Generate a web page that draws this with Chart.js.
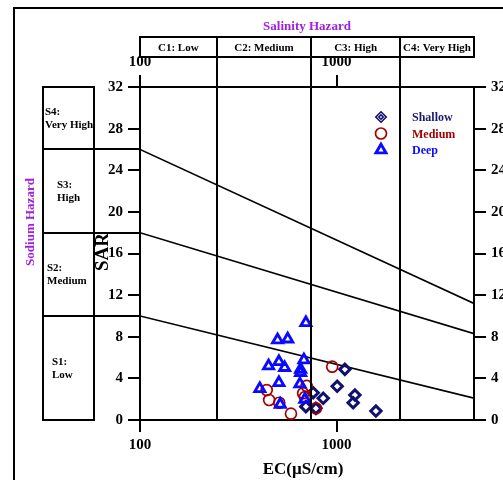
<!DOCTYPE html>
<html>
<head>
<meta charset="utf-8">
<script src="https://cdn.jsdelivr.net/npm/chart.js@4/dist/chart.umd.min.js"></script>
<style>
  html, body { margin: 0; padding: 0; background: #fff; }
  #wrap { width: 503px; height: 480px; position: relative; }
</style>
</head>
<body>
<div id="wrap"><canvas id="chart"></canvas></div>
<script>
const FONT = "'Liberation Serif', 'Times New Roman', serif";

// EC (uS/cm) and SAR
const shallowEC = [1102, 1007, 760, 855, 1239, 1214, 698, 785, 1585];
const shallowSAR = [4.87, 3.24, 2.62, 2.09, 2.40, 1.66, 1.28, 1.12, 0.86];
const mediumEC = [950, 441, 454, 511, 586, 704, 676, 690, 785];
const mediumSAR = [5.12, 2.88, 1.92, 1.66, 0.61, 3.27, 2.57, 2.2, 1.12];
const deepEC = [698, 501, 564, 451, 509, 544, 682, 656, 656, 509, 407, 651, 517, 690];
const deepSAR = [9.35, 7.69, 7.78, 5.19, 5.60, 5.03, 5.77, 4.87, 4.55, 3.58, 3.01, 3.46, 1.51, 1.99];

// hazard class boundaries
const salinityBounds = [245, 745, 2100];
const salinityLabels = ['C1: Low', 'C2: Medium', 'C3: High', 'C4: Very High'];
const sodiumLeft = [10, 18, 26];     // SAR of the boundary lines at EC = 100
const sodiumRight = [2.1, 8.3, 11.2]; // SAR of the boundary lines at EC = 5000
const sodiumLabels = [['S1:', 'Low'], ['S2:', 'Medium'], ['S3:', 'High'], ['S4:', 'Very High']];
const xTickValues = [100, 1000];

function pts(xs, ys) {
  return xs.map((x, i) => ({ x: x, y: ys[i] }));
}

const boundaryDatasets = sodiumLeft.map((v, i) => ({
  type: 'line',
  data: [{ x: 100, y: v }, { x: 5000, y: sodiumRight[i] }],
  borderColor: '#000',
  borderWidth: 1.6,
  pointRadius: 0,
  fill: false,
  order: 10
}));

const series = [
  { label: 'Shallow', data: pts(shallowEC, shallowSAR), pointStyle: 'rectRot', color: '#101070', radius: 5.2, width: 3, text: '#191970' },
  { label: 'Medium', data: pts(mediumEC, mediumSAR), pointStyle: 'circle', color: '#a50000', radius: 5.5, width: 1.7, text: '#a50000' },
  { label: 'Deep', data: pts(deepEC, deepSAR), pointStyle: 'triangle', color: '#0a0aff', radius: 5.8, width: 2.9, text: '#0a0aff' }
];

const scatterDatasets = series.map((s, i) => ({
  type: 'scatter',
  label: s.label,
  data: s.data,
  pointStyle: s.pointStyle,
  pointRadius: s.radius,
  pointBorderWidth: s.width,
  borderColor: s.color,
  backgroundColor: 'rgba(0,0,0,0)',
  order: 3 - i
}));

function tickAxis(position) {
  return {
    type: 'logarithmic',
    position: position,
    min: 100,
    max: 5000,
    afterBuildTicks: (scale) => { scale.ticks = xTickValues.map(v => ({ value: v, major: true })); },
    afterFit: (scale) => { scale.height = position === 'top' ? 87 : 60; },
    grid: { drawOnChartArea: false, drawTicks: true, tickLength: 12, color: '#000', lineWidth: 2 },
    border: { display: true, color: '#000', width: 2 },
    ticks: {
      autoSkip: false,
      maxRotation: 0,
      padding: 4,
      color: '#000',
      font: { family: FONT, size: 15, weight: 'bold' },
      callback: (v) => String(v)
    }
  };
}

function yAxis(position) {
  return {
    type: 'linear',
    position: position,
    min: 0,
    max: 32,
    afterFit: (scale) => { scale.width = position === 'left' ? 40 : 29; },
    grid: { drawOnChartArea: false, drawTicks: true, tickLength: 12, color: '#000', lineWidth: 2 },
    border: { display: true, color: '#000', width: 2 },
    ticks: {
      stepSize: 4,
      padding: 5,
      color: '#000',
      font: { family: FONT, size: 15, weight: 'bold' }
    }
  };
}

const decorPlugin = {
  id: 'decor',
  beforeDraw(chart) {
    const ctx = chart.ctx;
    ctx.save();
    ctx.fillStyle = '#fff';
    ctx.fillRect(0, 0, chart.width, chart.height);
    ctx.restore();
  },
  afterDraw(chart) {
    const ctx = chart.ctx;
    const area = chart.chartArea;
    const xs = chart.scales.x;
    const ys = chart.scales.y;
    ctx.save();
    ctx.strokeStyle = '#000';
    ctx.fillStyle = '#000';

    // outer frame
    ctx.lineWidth = 2;
    ctx.strokeRect(14, 8, 520, 500);

    // salinity hazard box
    const boxTop = 37, boxBot = 57;
    ctx.strokeRect(area.left, boxTop, area.right - area.left, boxBot - boxTop);
    const edges = [area.left].concat(salinityBounds.map(v => xs.getPixelForValue(v)), [area.right]);
    ctx.beginPath();
    salinityBounds.forEach(v => {
      const px = Math.round(xs.getPixelForValue(v));
      ctx.moveTo(px, boxTop);
      ctx.lineTo(px, area.bottom);
    });
    ctx.stroke();
    ctx.font = 'bold 11px ' + FONT;
    ctx.textAlign = 'center';
    ctx.textBaseline = 'middle';
    salinityLabels.forEach((t, i) => {
      ctx.fillText(t, (edges[i] + edges[i + 1]) / 2, (boxTop + boxBot) / 2 + 1);
    });
    ctx.fillStyle = '#a020e0';
    ctx.font = 'bold 13px ' + FONT;
    ctx.fillText('Salinity Hazard', (area.left + area.right) / 2, 27);

    // sodium hazard box
    const bl = 43, br = 94;
    ctx.strokeStyle = '#000';
    ctx.fillStyle = '#000';
    ctx.strokeRect(bl, area.top, br - bl, area.bottom - area.top);
    ctx.beginPath();
    sodiumLeft.forEach(v => {
      const py = Math.round(ys.getPixelForValue(v));
      ctx.moveTo(bl, py);
      ctx.lineTo(area.left, py);
    });
    ctx.stroke();
    const yEdges = [0].concat(sodiumLeft, [32]).map(v => ys.getPixelForValue(v));
    ctx.font = 'bold 11px ' + FONT;
    ctx.textAlign = 'left';
    const labelX = [52, 47, 57, 45];
    sodiumLabels.forEach((lines, i) => {
      const cy = (yEdges[i] + yEdges[i + 1]) / 2;
      ctx.fillText(lines[0], labelX[i], cy - 6);
      ctx.fillText(lines[1], labelX[i], cy + 7);
    });

    // rotated titles
    ctx.save();
    ctx.translate(31, 222);
    ctx.rotate(-Math.PI / 2);
    ctx.textAlign = 'center';
    ctx.fillStyle = '#a020e0';
    ctx.font = 'bold 13px ' + FONT;
    ctx.fillText('Sodium Hazard', 0, 0);
    ctx.restore();

    ctx.save();
    ctx.translate(103, 252);
    ctx.rotate(-Math.PI / 2);
    ctx.textAlign = 'center';
    ctx.fillStyle = '#000';
    ctx.font = 'bold 19px ' + FONT;
    ctx.fillText('SAR', 0, 0);
    ctx.restore();

    ctx.textAlign = 'center';
    ctx.fillStyle = '#000';
    ctx.font = 'bold 17px ' + FONT;
    ctx.fillText('EC(\u00b5S/cm)', 303, 470);

    // legend
    const lx = 381, ly = 117, step = 16.5;
    series.forEach((s, i) => {
      const y = ly + i * step;
      ctx.strokeStyle = s.color;
      ctx.fillStyle = 'rgba(0,0,0,0)';
      const w = s.pointStyle === 'rectRot' ? 1.6 : s.width;
      ctx.lineWidth = w;
      Chart.helpers.drawPoint(ctx, { pointStyle: s.pointStyle, radius: s.radius, rotation: 0, borderWidth: w }, lx, y);
      if (s.pointStyle === 'rectRot') {
        Chart.helpers.drawPoint(ctx, { pointStyle: 'rectRot', radius: 2.2, rotation: 0, borderWidth: w }, lx, y);
      }
      ctx.fillStyle = s.text;
      ctx.font = 'bold 12px ' + FONT;
      ctx.textAlign = 'left';
      ctx.fillText(s.label, 412, y + 1);
    });
    ctx.restore();
  }
};

new Chart(document.getElementById('chart'), {
  data: { datasets: boundaryDatasets.concat(scatterDatasets) },
  options: {
    responsive: true,
    maintainAspectRatio: false,
    animation: false,
    layout: { padding: { left: 100, right: 0, top: 0, bottom: 0 } },
    scales: {
      x: tickAxis('bottom'),
      x2: tickAxis('top'),
      y: yAxis('left'),
      y2: yAxis('right')
    },
    plugins: {
      legend: { display: false },
      tooltip: { enabled: false }
    }
  },
  plugins: [decorPlugin]
});
</script>
</body>
</html>
